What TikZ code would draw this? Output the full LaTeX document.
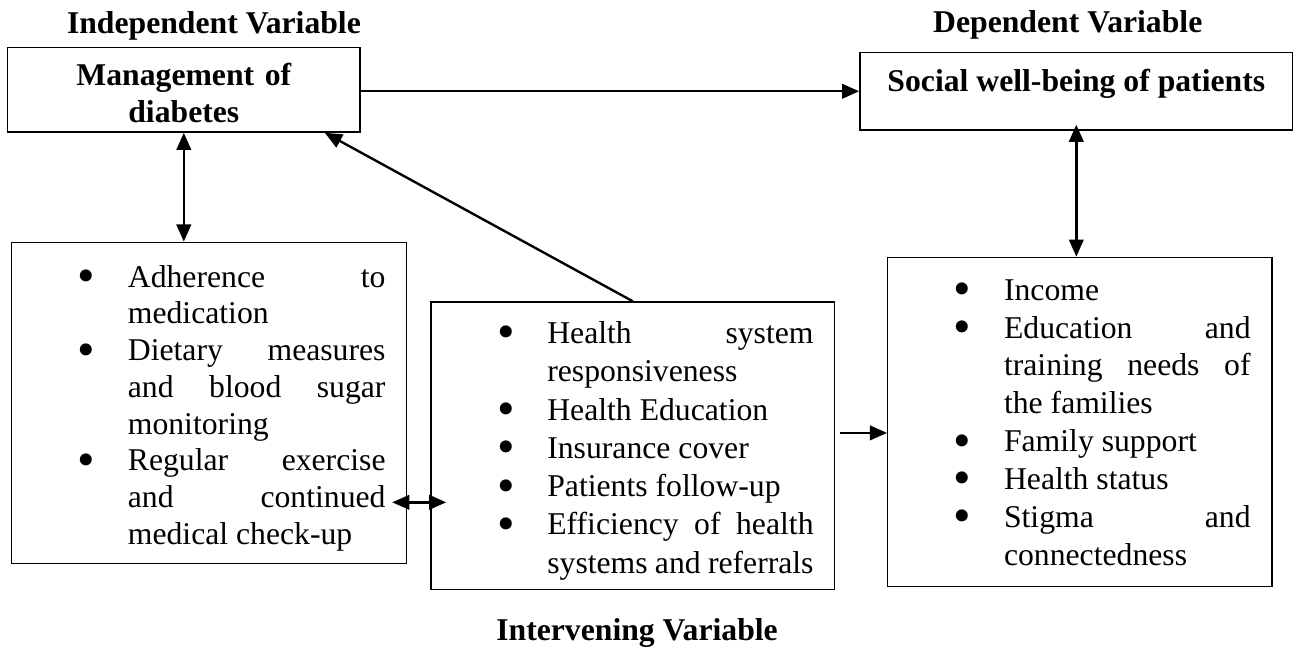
\documentclass[tikz,border=0pt,12pt]{standalone}
\usepackage{fontspec}
\setmainfont{Liberation Serif}
\usepackage{tikz}
\usetikzlibrary{arrows.meta, calc, positioning}
\tolerance=10000
\hbadness=10000
\hyphenpenalty=10000
\exhyphenpenalty=10000
\tikzset{
    boxnode/.style = {draw, rectangle, line width=0.5pt, inner sep=0em, node distance=0em, 
      font=\fontsize{12}{14}\selectfont\bfseries, align=center},
    listnode/.style = {draw, rectangle, line width=0.5pt, inner sep=0em, node distance=0em, align=justify},
    varnode/.style = {draw=none, fill=none, inner sep=0.17em, font=\fontsize{12}{14}\selectfont\bfseries},
    arrowline/.style = {black, line width=0.9pt}
}
% bullet list used inside the three factor boxes
\newcommand{\bigbullet}{\raisebox{-0.17em}{\fontsize{19}{19}\selectfont\textbullet}}
\newenvironment{factorlist}{%
  \begin{list}{\bigbullet}{%
    \setlength{\leftmargin}{3.67em}\setlength{\rightmargin}{0.67em}%
    \setlength{\labelsep}{1.03em}\setlength{\labelwidth}{1em}%
    \setlength{\itemsep}{0em}\setlength{\parsep}{0em}%
    \setlength{\topsep}{0em}\setlength{\partopsep}{0em}}}
  {\end{list}}

\begin{document}
\begin{tikzpicture}[>={Triangle[length=6.5pt,width=5.5pt]}, font=\fontsize{12}{14.4}\selectfont]
    \useasboundingbox (0,0) rectangle (490.7pt,-245pt);

    \node [name=manage, boxnode, text width=11.11em, text height=1.2em, text depth=1.48em, 
        label={[varnode, xshift=0.95em]above:Independent Variable}] at (5.8em,-2.83em) {Management of\\diabetes};
    \node [name=social, boxnode, right of = manage, xshift=28.16em, yshift=-0.05em, 
        minimum width=13.66em, text height=0.9em, text depth=0.89em, inner ysep=0.33em, 
        label={[varnode, xshift=-0.27em, label distance=0.22em]above:Dependent Variable}] {Social well-being of patients};

    \node [name=leftbox, listnode, below of = manage, xshift=0.8em, yshift=-9.88em, 
        text width=12.47em, text height=0.26em, text depth=9.87em, font=\fontsize{12}{13.9}\selectfont] {
        \begin{factorlist}
            \item Adherence to\linebreak medication
            \item Dietary measures\linebreak and blood sugar\linebreak monitoring
            \item Regular exercise\linebreak and continued\linebreak medical check-up
        \end{factorlist}};
    \node [name=midbox, listnode, below of = manage, xshift=14.17em, yshift=-11.23em, 
        text width=12.74em, text height=0.1em, text depth=8.96em, font=\fontsize{12}{14.5}\selectfont, 
        label={[varnode, xshift=0.13em, label distance=0.73em]below:Intervening Variable}] {
        \begin{factorlist}
            \item Health system\linebreak responsiveness
            \item Health Education
            \item Insurance cover
            \item Patients follow-up
            \item Efficiency of health\linebreak systems and referrals
        \end{factorlist}};
    \node [name=rightbox, listnode, below of = social, xshift=0.11em, yshift=-10.43em, 
        text width=12.12em, text height=0.16em, text depth=10.22em, font=\fontsize{12}{14.33}\selectfont] {
        \begin{factorlist}
            \item Income
            \item Education and\linebreak training needs of\linebreak the families
            \item Family support
            \item Health status
            \item Stigma and\linebreak connectedness
        \end{factorlist}};

    \draw [arrowline, ->] (manage.east |- social.west) -- (social.west);
    \draw [arrowline, <->] (manage.south) -- (manage.south |- leftbox.north);
    \draw [arrowline, <->] ([yshift=0.19em]social.south) -- (social.south |- rightbox.north);
    \draw [arrowline, ->] (midbox.north) -- (manage.343);

    \coordinate (leftlink) at ([xshift=-0.48em, yshift=-3.14em]leftbox.east);
    \draw [arrowline, <->] (leftlink) -- ($(leftlink -| midbox.west)+(0.5em,0)$);
    \coordinate (rightlink) at ([xshift=0.13em, yshift=0.4em]midbox.east);
    \draw [arrowline, ->] (rightlink) -- (rightlink -| rightbox.west);
\end{tikzpicture}
\end{document}
